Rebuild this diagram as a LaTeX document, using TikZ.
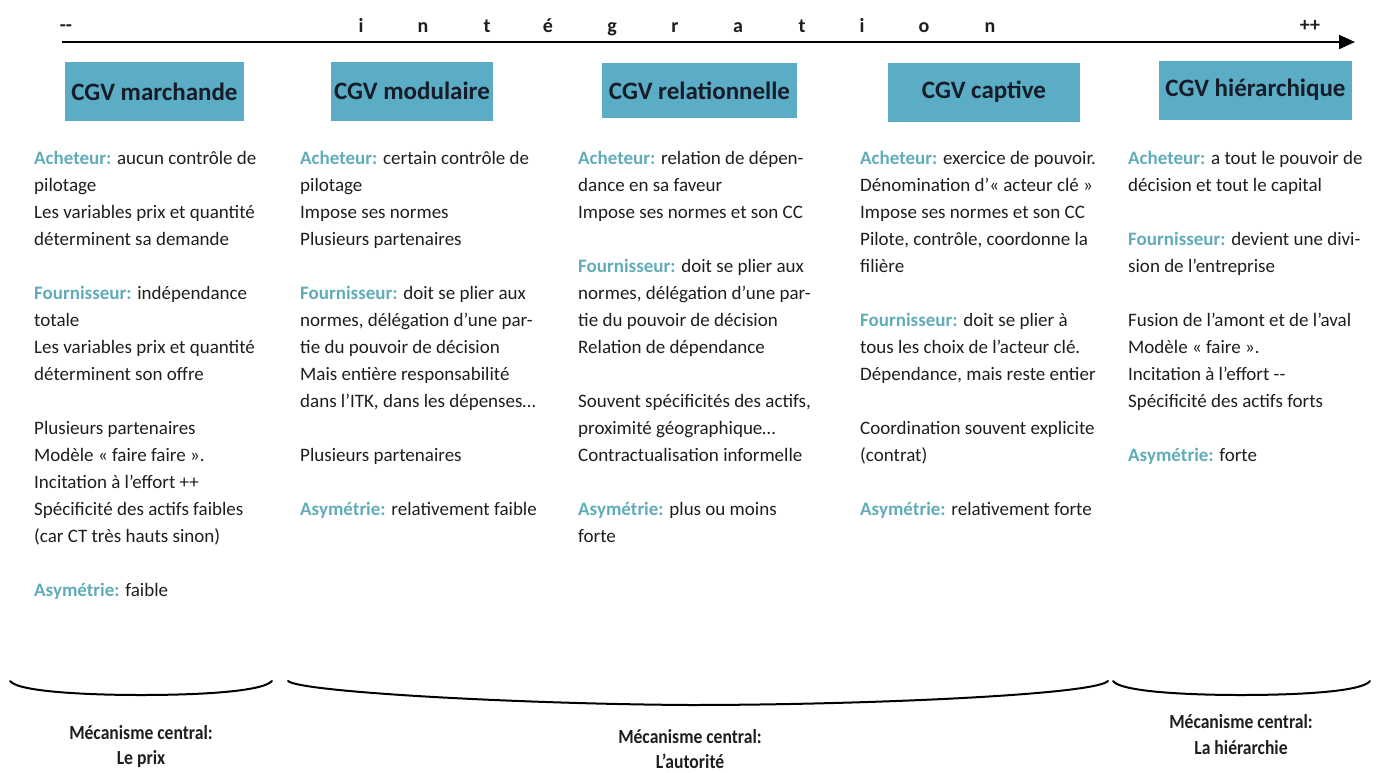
\documentclass[tikz,border=0pt]{standalone}
\usepackage{fontspec}
\setmainfont{Carlito}
\usetikzlibrary{arrows.meta}
\definecolor{boxblue}{RGB}{91,172,197}
\definecolor{lbl}{RGB}{96,172,184}
\definecolor{ink}{RGB}{30,30,30}
\definecolor{boxink}{RGB}{22,28,40}
\newcommand{\lab}[1]{\textbf{\textcolor{lbl}{#1}}}
\newcommand{\cond}[1]{\scalebox{0.88}[1]{#1}}
\begin{document}
\begin{tikzpicture}[x=1pt,y=-1pt,
  cgv/.style={fill=boxblue, minimum height=59pt, inner sep=0pt, font=\fontsize{25}{29}\selectfont\bfseries, text=boxink},
  col/.style={anchor=north west, inner sep=0pt, align=left, font=\fontsize{19}{27}\selectfont, text=ink},
  letter/.style={font=\fontsize{20}{22}\selectfont\bfseries, inner sep=0pt, text=ink, anchor=base},
  mech/.style={font=\fontsize{20}{22}\selectfont\bfseries, inner sep=0pt, text=ink},
  brace/.style={line width=2pt, line cap=round}]

\useasboundingbox (0,0) rectangle (1377,772);

% axis
\coordinate (as) at (62,42);
\coordinate (ae) at (1355,42);
\draw[line width=2pt, -{Triangle[length=16pt,width=14pt]}] (as) -- (ae);
\node[letter] (mm) at (66,31) {-{}-};
\node[letter] (pp) at (1310,31) {++};
\node[letter] (l1) at (361,32) {i};
\node[letter] (l2) at (423,32) {n};
\node[letter] (l3) at (487,32) {t};
\node[letter] (l4) at (548,32) {é};
\node[letter] (l5) at (612,32) {g};
\node[letter] (l6) at (675,32) {r};
\node[letter] (l7) at (738,32) {a};
\node[letter] (l8) at (802,32) {t};
\node[letter] (l9) at (862,32) {i};
\node[letter] (l10) at (924,32) {o};
\node[letter] (l11) at (990,32) {n};

% boxes
\node[cgv, minimum width=179pt] (b1) at (154.5,91.5) {CGV marchande};
\node[cgv, minimum width=162pt] (b2) at (412,91) {CGV modulaire};
\node[cgv, minimum width=195pt, minimum height=55pt] (b3) at (699.5,90.5) {CGV relationnelle};
\node[cgv, minimum width=192pt] (b4) at (984,92) {CGV captive};
\node[cgv, minimum width=193pt] (b5) at (1255.5,90) {CGV hiérarchique};

% columns
\node[col] (c1) at (34,151) {\lab{Acheteur:} aucun contrôle de\\
pilotage\\
Les variables prix et quantité\\
déterminent sa demande\\[27pt]
\lab{Fournisseur:} indépendance\\
totale\\
Les variables prix et quantité\\
déterminent son offre\\[27pt]
Plusieurs partenaires\\
Modèle « faire faire ».\\
Incitation à l’effort ++\\
Spécificité des actifs faibles\\
(car CT très hauts sinon)\\[27pt]
\lab{Asymétrie:} faible};

\node[col] (c2) at (300,151) {\lab{Acheteur:} certain contrôle de\\
pilotage\\
Impose ses normes\\
Plusieurs partenaires\\[27pt]
\lab{Fournisseur:} doit se plier aux\\
normes, délégation d’une par-\\
tie du pouvoir de décision\\
Mais entière responsabilité\\
dans l’ITK, dans les dépenses…\\[27pt]
Plusieurs partenaires\\[27pt]
\lab{Asymétrie:} relativement faible};

\node[col] (c3) at (578,151) {\lab{Acheteur:} relation de dépen-\\
dance en sa faveur\\
Impose ses normes et son CC\\[27pt]
\lab{Fournisseur:} doit se plier aux\\
normes, délégation d’une par-\\
tie du pouvoir de décision\\
Relation de dépendance\\[27pt]
Souvent spécificités des actifs,\\
proximité géographique…\\
Contractualisation informelle\\[27pt]
\lab{Asymétrie:} plus ou moins\\
forte};

\node[col] (c4) at (860,151) {\lab{Acheteur:} exercice de pouvoir.\\
Dénomination d’« acteur clé »\\
Impose ses normes et son CC\\
Pilote, contrôle, coordonne la\\
filière\\[27pt]
\lab{Fournisseur:} doit se plier à\\
tous les choix de l’acteur clé.\\
Dépendance, mais reste entier\\[27pt]
Coordination souvent explicite\\
(contrat)\\[27pt]
\lab{Asymétrie:} relativement forte};

\node[col] (c5) at (1128,151) {\lab{Acheteur:} a tout le pouvoir de\\
décision et tout le capital\\[27pt]
\lab{Fournisseur:} devient une divi-\\
sion de l’entreprise\\[27pt]
Fusion de l’amont et de l’aval\\
Modèle « faire ».\\
Incitation à l’effort -{}-\\
Spécificité des actifs forts\\[27pt]
\lab{Asymétrie:} forte};

% braces
\draw[brace] (10,681) .. controls (18,692) and (90,695) .. (141,695) .. controls (195,695) and (262,692) .. (272,681);
\draw[brace] (288,681) .. controls (300,692) and (520,704) .. (690,705) .. controls (860,705) and (1095,695) .. (1108,681);
\draw[brace] (1113,681) .. controls (1121,692) and (1190,695) .. (1241,695) .. controls (1295,695) and (1362,692) .. (1370,681);

% mechanisms
\node[mech] (m1a) at (141,733) {\cond{Mécanisme central:}};
\node[mech] (m1b) at (141,759) {\cond{Le prix}};
\node[mech] (m2a) at (690,737) {\cond{Mécanisme central:}};
\node[mech] (m2b) at (690,761) {\cond{L’autorité}};
\node[mech] (m3a) at (1241,722) {\cond{Mécanisme central:}};
\node[mech] (m3b) at (1241,748) {\cond{La hiérarchie}};
\end{tikzpicture}
\end{document}
